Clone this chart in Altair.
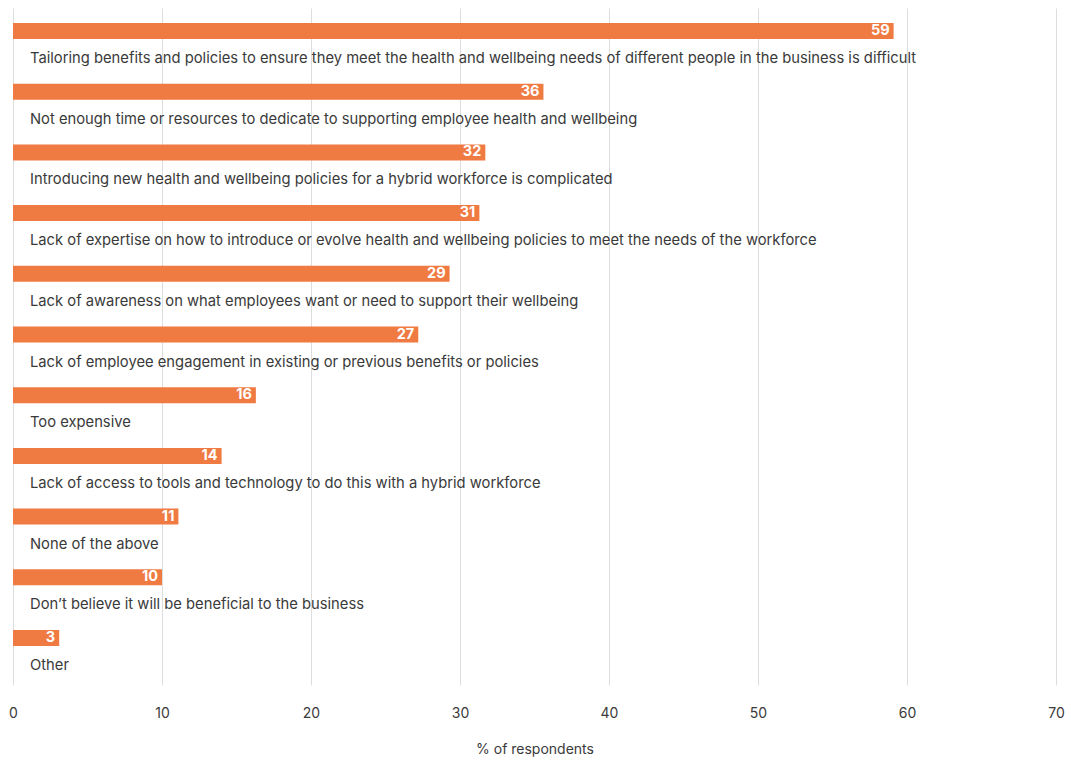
import altair as alt
import pandas as pd

categories = [
    "Tailoring benefits and policies to ensure they meet the health and wellbeing needs of different people in the business is difficult",
    "Not enough time or resources to dedicate to supporting employee health and wellbeing",
    "Introducing new health and wellbeing policies for a hybrid workforce is complicated",
    "Lack of expertise on how to introduce or evolve health and wellbeing policies to meet the needs of the workforce",
    "Lack of awareness on what employees want or need to support their wellbeing",
    "Lack of employee engagement in existing or previous benefits or policies",
    "Too expensive",
    "Lack of access to tools and technology to do this with a hybrid workforce",
    "None of the above",
    "Don\u2019t believe it will be beneficial to the business",
    "Other",
]
# bar lengths (unrounded); labels show the rounded figures
values = [59.1, 35.6, 31.7, 31.3, 29.3, 27.2, 16.3, 14.0, 11.1, 10.0, 3.1]
value_labels = ["59", "36", "32", "31", "29", "27", "16", "14", "11", "10", "3"]

df = pd.DataFrame({"category": categories, "value": values, "label": value_labels})

FONT = "Inter"
ORANGE = "#EF7A42"
TEXT = "#3a3a3a"

y_enc = alt.Y("category:N", sort=categories, axis=None,
              scale=alt.Scale(paddingInner=0, paddingOuter=0.077))
x_scale = alt.Scale(domain=[0, 70])

base = alt.Chart(df)

bars = base.mark_bar(color=ORANGE, height=16, yOffset=-12).encode(
    x=alt.X("value:Q", scale=x_scale,
            axis=alt.Axis(title="% of respondents", values=[0, 10, 20, 30, 40, 50, 60, 70],
                          grid=True, gridColor="#dddddd", gridWidth=1,
                          domain=False, ticks=False, labelPadding=21, labelFlush=False,
                          labelFont=FONT, labelFontSize=14, labelColor=TEXT,
                          titleFont=FONT, titleFontSize=14, titleFontWeight="normal",
                          titleColor=TEXT, titlePadding=22)),
    y=y_enc,
)

vals = base.mark_text(align="right", baseline="middle", color="white", font=FONT,
                      fontSize=14.5, fontWeight="bold", dx=-4, yOffset=-12).encode(
    x=alt.X("value:Q", scale=x_scale),
    y=y_enc,
    text="label:N",
)

labels = base.mark_text(align="left", baseline="middle", color=TEXT, font=FONT,
                        fontSize=14.75, dx=17, yOffset=16).encode(
    x=alt.datum(0, scale=x_scale),
    y=y_enc,
    text="category:N",
)

chart = (bars + vals + labels).properties(
    width=1043, height=677,
    background="white",
    autosize=alt.AutoSizeParams(type="none"),
    padding={"left": 13, "top": 8, "right": 15, "bottom": 75},
).configure_view(strokeWidth=0, stroke=None)

chart.save("out.html", embed_options={"renderer": "svg", "actions": False})
